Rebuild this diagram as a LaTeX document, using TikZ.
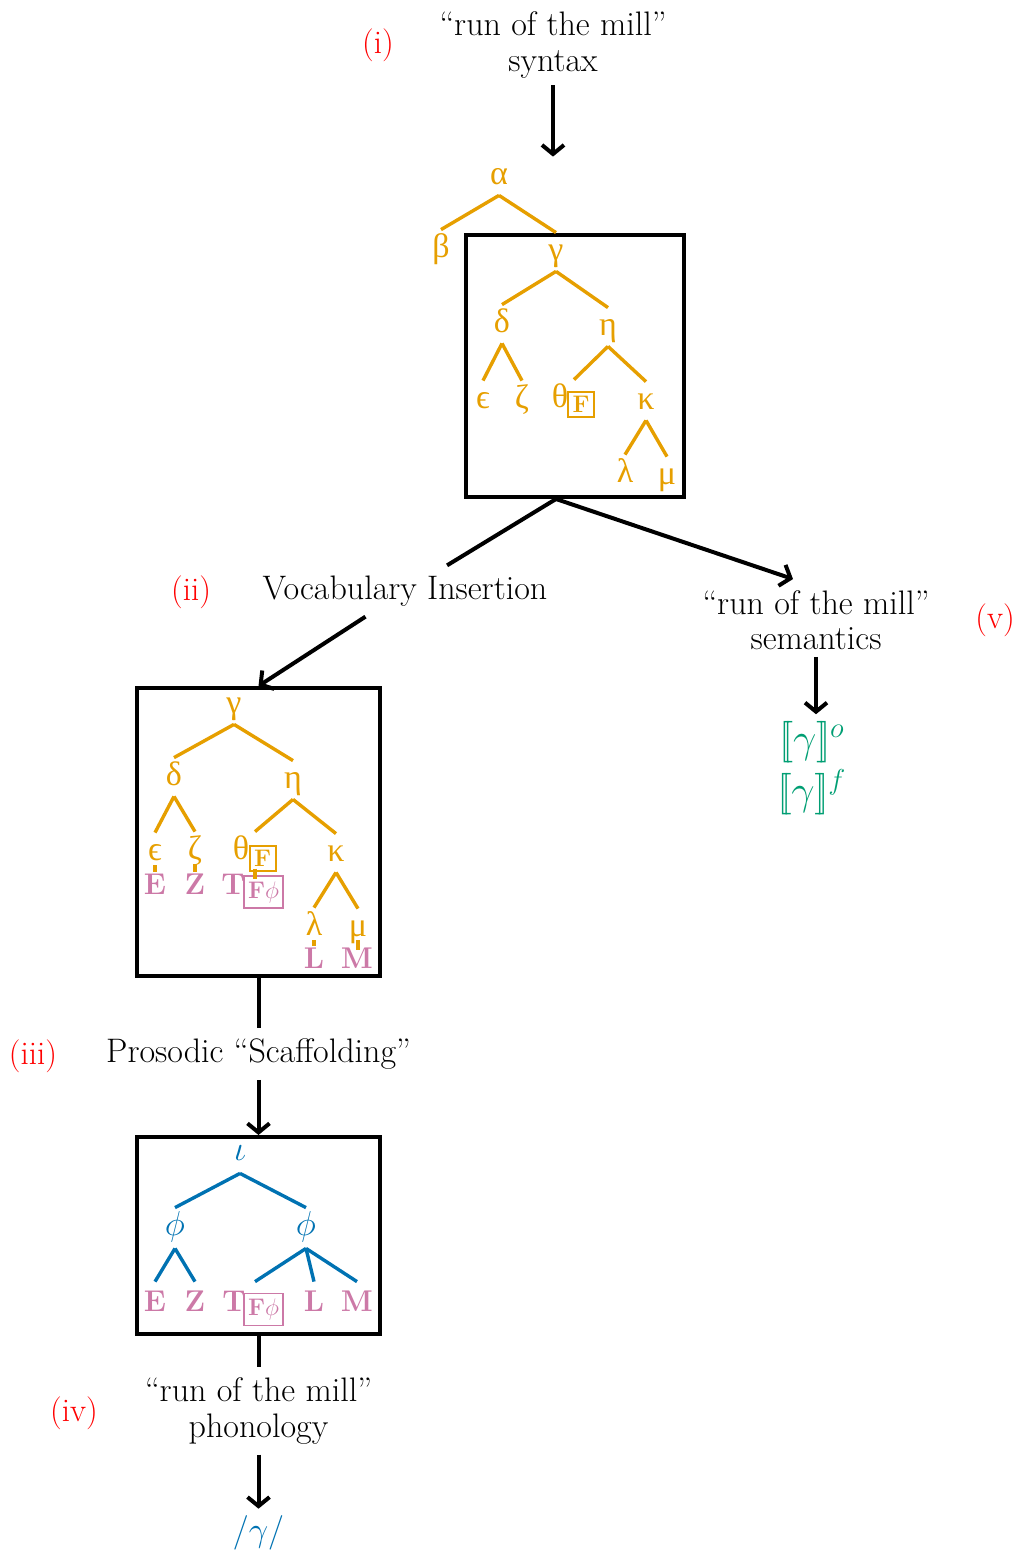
\documentclass[tikz,border=0pt]{standalone}
\usepackage{fontspec}
\usetikzlibrary{arrows.meta,calc}
\newfontfamily\grkfont{Liberation Serif}
\definecolor{orn}{HTML}{E69F00}
\definecolor{pnk}{HTML}{CC79A7}
\definecolor{blu}{HTML}{0072B2}
\definecolor{grn}{HTML}{009E73}
\tikzset{
  txt/.style={font=\fontsize{17}{17.8}\selectfont, align=center},
  lbl/.style={font=\fontsize{16.5}{17.5}\selectfont, text=red},
  gk/.style={text=orn, font=\grkfont\fontsize{17}{19}\selectfont, inner sep=0pt,
    minimum height=19pt, text height=9pt, text depth=0.5pt},
  pk/.style={text=pnk, font=\bfseries\fontsize{15}{16}\selectfont, inner sep=0pt,
    minimum height=19pt, text height=10pt, text depth=0pt},
  bl/.style={text=blu, font=\fontsize{16}{18}\selectfont, inner sep=0pt,
    minimum height=20pt, text height=9pt, text depth=1.5pt},
  fbox/.style={draw=orn, line width=1pt, text=orn, inner sep=0pt,
    minimum width=13pt, minimum height=12.5pt, font=\bfseries\fontsize{12}{14}\selectfont},
  pbox/.style={draw=pnk, line width=0.7pt, text=pnk, inner sep=0pt,
    minimum width=19.5pt, minimum height=16pt, font=\fontsize{12}{14}\selectfont},
  frame/.style={draw=black, line width=2pt, inner sep=0pt},
  otree/.style={draw=orn, line width=1.7pt},
  btree/.style={draw=blu, line width=1.7pt},
  bar/.style={draw=orn, line width=2pt},
  ln/.style={line width=2pt},
  arr/.style={line width=2pt, -{Straight Barb[length=4.5pt,width=11pt]}},
}
\begin{document}
\begin{tikzpicture}[x=0.5pt,y=-0.5pt]
\useasboundingbox (0,0) rectangle (1016,1553);

% frames
\node[frame, minimum width=109pt, minimum height=131pt] (box1) at (575,366) {};
\node[frame, minimum width=121.5pt, minimum height=144pt] (box2) at (258.5,832) {};
\node[frame, minimum width=121.5pt, minimum height=98.5pt] (box3) at (258.5,1235.5) {};

% texts
\node[txt] (syn) at (553,45) {“run of the mill”\\syntax};
\node[txt, inner ysep=5pt] (vi) at (405,591) {Vocabulary Insertion};
\node[txt] (sem) at (816,620) {“run of the mill”\\semantics};
\node[align=center, text=grn, font=\fontsize{20}{26}\selectfont] (den) at (812,768)
  {$[\![\gamma]\!]^{o}$\\$[\![\gamma]\!]^{f}$};
\node[txt, inner ysep=5pt] (pro) at (258.5,1054) {Prosodic “Scaffolding”};
\node[txt, inner ysep=5pt] (pho) at (258.5,1411) {“run of the mill”\\phonology};
\node[text=blu, font=\fontsize{19}{21}\selectfont] (phon) at (258.5,1533) {$/\gamma/$};

% red labels
\node[lbl] (li) at (378,45) {(i)};
\node[lbl] (lii) at (191,592) {(ii)};
\node[lbl] (liii) at (33,1056) {(iii)};
\node[lbl] (liv) at (74,1413) {(iv)};
\node[lbl] (lv) at (995,620) {(v)};

% tree 1
\node[gk] (alpha) at (499,176) {α};
\node[gk] (beta) at (441,249) {β};
\node[gk] (gamma1) at (556,252) {γ};
\node[gk] (delta1) at (502,324) {δ};
\node[gk] (eta1) at (608,327) {η};
\node[gk] (eps1) at (483,400) {ϵ};
\node[gk] (zeta1) at (522,400) {ζ};
\node[gk] (theta1) at (560,399) {θ};
\node[fbox] (F1) at (581,404.5) {F};
\node[gk] (kappa1) at (646,401) {κ};
\node[gk] (lambda1) at (625,474) {λ};
\node[gk] (mu1) at (667,476) {μ};
\draw[otree] (alpha.south) -- (beta.north);
\draw[otree] (alpha.south) -- (gamma1.north);
\draw[otree] (gamma1.south) -- (delta1.north);
\draw[otree] (gamma1.south) -- (eta1.north);
\draw[otree] (delta1.south) -- (eps1.north);
\draw[otree] (delta1.south) -- (zeta1.north);
\draw[otree] (eta1.south) -- ([xshift=7pt]theta1.north);
\draw[otree] (eta1.south) -- (kappa1.north);
\draw[otree] (kappa1.south) -- (lambda1.north);
\draw[otree] (kappa1.south) -- (mu1.north);

% tree 2
\node[gk] (gamma2) at (234,705) {γ};
\node[gk] (delta2) at (174,777) {δ};
\node[gk] (eta2) at (293,780) {η};
\node[gk] (eps2) at (155,852) {ϵ};
\node[gk] (zeta2) at (195,851) {ζ};
\node[gk] (theta2) at (241,851) {θ};
\node[fbox] (F2) at (262.5,858) {F};
\node[gk] (kappa2) at (336,853) {κ};
\node[gk] (lambda2) at (314,927) {λ};
\node[gk] (mu2) at (358,928) {μ};
\node[pk] (E2) at (155,884) {E};
\node[pk] (Z2) at (195,884) {Z};
\node[pk] (T2) at (233,884) {T};
\node[pbox] (Fp2) at (263.5,892) {\textbf{F}$\phi$};
\node[pk] (L2) at (314,958) {L};
\node[pk] (M2) at (357,958) {M};
\draw[otree] (gamma2.south) -- (delta2.north);
\draw[otree] (gamma2.south) -- (eta2.north);
\draw[otree] (delta2.south) -- (eps2.north);
\draw[otree] (delta2.south) -- (zeta2.north);
\draw[otree] (eta2.south) -- ([xshift=7pt]theta2.north);
\draw[otree] (eta2.south) -- (kappa2.north);
\draw[otree] (kappa2.south) -- (lambda2.north);
\draw[otree] (kappa2.south) -- (mu2.north);
\draw[bar, shorten <=6.5pt, shorten >=6pt] (eps2.center) -- (E2.center);
\draw[bar, shorten <=6.5pt, shorten >=6pt] (zeta2.center) -- (Z2.center);
\draw[bar, shorten <=6.5pt, shorten >=6pt] (lambda2.center) -- (L2.center);
\draw[bar, shorten <=6pt, shorten >=4pt] (mu2.center) -- (mu2.center |- M2.center);
\draw[bar] ([xshift=-3.75pt,yshift=1.5pt]F2.south) -- ([xshift=-4.25pt,yshift=-2pt]Fp2.north);

% tree 3
\node[bl] (iota) at (240,1153) {$\iota$};
\node[bl] (phiA) at (175,1228) {$\phi$};
\node[bl] (phiB) at (306,1228) {$\phi$};
\node[pk] (E3) at (155,1301) {E};
\node[pk] (Z3) at (195,1301) {Z};
\node[pk] (T3) at (234,1301) {T};
\node[pbox] (Fp3) at (263.5,1309.5) {\textbf{F}$\phi$};
\node[pk] (L3) at (314,1301) {L};
\node[pk] (M3) at (357,1301) {M};
\draw[btree] (iota.south) -- (phiA.north);
\draw[btree] (iota.south) -- (phiB.north);
\draw[btree] (phiA.south) -- (E3.north);
\draw[btree] (phiA.south) -- (Z3.north);
\draw[btree] (phiB.south) -- ([xshift=10.5pt]T3.north);
\draw[btree] (phiB.south) -- (L3.north);
\draw[btree] (phiB.south) -- (M3.north);

% connectors
\coordinate (semIn) at ([xshift=-11.5pt,yshift=2pt]sem.north);
\draw[arr] (syn) -- (syn |- alpha.north);
\draw[ln] (gamma1 |- box1.south) -- (vi);
\draw[arr] (vi) -- (box2.north);
\draw[arr] (gamma1 |- box1.south) -- (semIn);
\draw[arr] (sem) -- (sem |- den.north);
\draw[ln] (box2.south) -- (pro);
\draw[arr] (pro) -- (box3.north);
\draw[ln] (box3.south) -- (pho);
\draw[arr] (pho) -- (phon);
\end{tikzpicture}
\end{document}
